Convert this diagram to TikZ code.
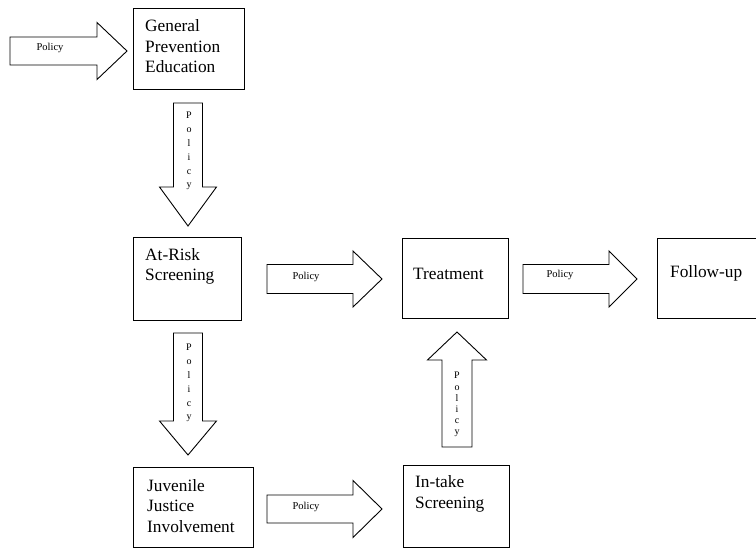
\documentclass[tikz,border=0pt]{standalone}
\usepackage{fontspec}
\setmainfont{Liberation Serif}
\newcommand\harr[6]{\draw[blk] ({#1},{#3-#4}) -- ({#2-(#6)},{#3-#4}) -- ({#2-(#6)},{#3-#5}) -- ({#2},{#3}) -- ({#2-(#6)},{#3+#5}) -- ({#2-(#6)},{#3+#4}) -- ({#1},{#3+#4}) -- cycle;}
\newcommand\varr[6]{\draw[blk] ({#3-#4},{#1}) -- ({#3-#4},{#2-(#6)}) -- ({#3-#5},{#2-(#6)}) -- ({#3},{#2}) -- ({#3+#5},{#2-(#6)}) -- ({#3+#4},{#2-(#6)}) -- ({#3+#4},{#1}) -- cycle;}
\begin{document}
\begin{tikzpicture}[x=1pt,y=-1pt,
  box/.style={draw, line width=1.1pt, inner sep=0pt, anchor=north west},
  blk/.style={draw, line width=0.9pt, fill=white, line join=miter},
  lbl/.style={font=\fontsize{17.3}{20.5}\selectfont, align=left, inner sep=0pt, anchor=base west},
  pol/.style={font=\fontsize{10.5}{12}\selectfont, inner sep=0pt, anchor=base},
  vpol/.style={font=\fontsize{10}{13.9}\selectfont, align=center, inner sep=0pt, anchor=base}]
\useasboundingbox (0,0) rectangle (756,548);
\clip (0,0) rectangle (756,548);
% boxes
\node[box, minimum width=111pt, minimum height=81pt] (gpe) at (133,8) {};
\node[box, minimum width=108pt, minimum height=83pt] (ars) at (133,237) {};
\node[box, minimum width=106pt, minimum height=80pt] (trt) at (402,238) {};
\node[box, minimum width=120pt, minimum height=80pt] (fup) at (657,238) {};
\node[box, minimum width=120pt, minimum height=80pt] (jji) at (133,467) {};
\node[box, minimum width=106pt, minimum height=82pt] (ins) at (403,465) {};
% box texts (base anchor = baseline of last line)
\node[lbl] (tgpe) at (145,73) {General\\Prevention\\Education};
\node[lbl] (tars) at (145,281) {At-Risk\\Screening};
\node[lbl] (ttrt) at (413,280) {Treatment};
\node[lbl] (tfup) at (670,278) {Follow-up};
\node[lbl] (tjji) at (147,532) {Juvenile\\Justice\\Involvement};
\node[lbl] (tins) at (415,508) {In-take\\Screening};
% block arrows
\harr{10}{127}{51}{14}{28.5}{30}
\harr{267}{382}{279}{14.5}{28}{29}
\harr{523}{637}{279}{14.5}{28}{28}
\harr{267}{382}{509}{14}{28.5}{29}
\varr{103}{226}{188}{14.5}{28.5}{39}
\varr{333}{455}{188}{14.5}{28.5}{34}
\varr{447}{332}{457}{15}{29.5}{-28}
% arrow labels
\node[pol] (p1) at (50,51) {Policy};
\node[pol] (p2) at (306,280) {Policy};
\node[pol] (p3) at (560,278) {Policy};
\node[pol] (p4) at (306,509) {Policy};
\node[vpol] (p5) at (189,188) {P\\o\\l\\i\\c\\y};
\node[vpol] (p6) at (189,420) {P\\o\\l\\i\\c\\y};
\node[vpol, font=\fontsize{10}{11.2}\selectfont] (p7) at (457,435) {P\\o\\l\\i\\c\\y};
\end{tikzpicture}
\end{document}
